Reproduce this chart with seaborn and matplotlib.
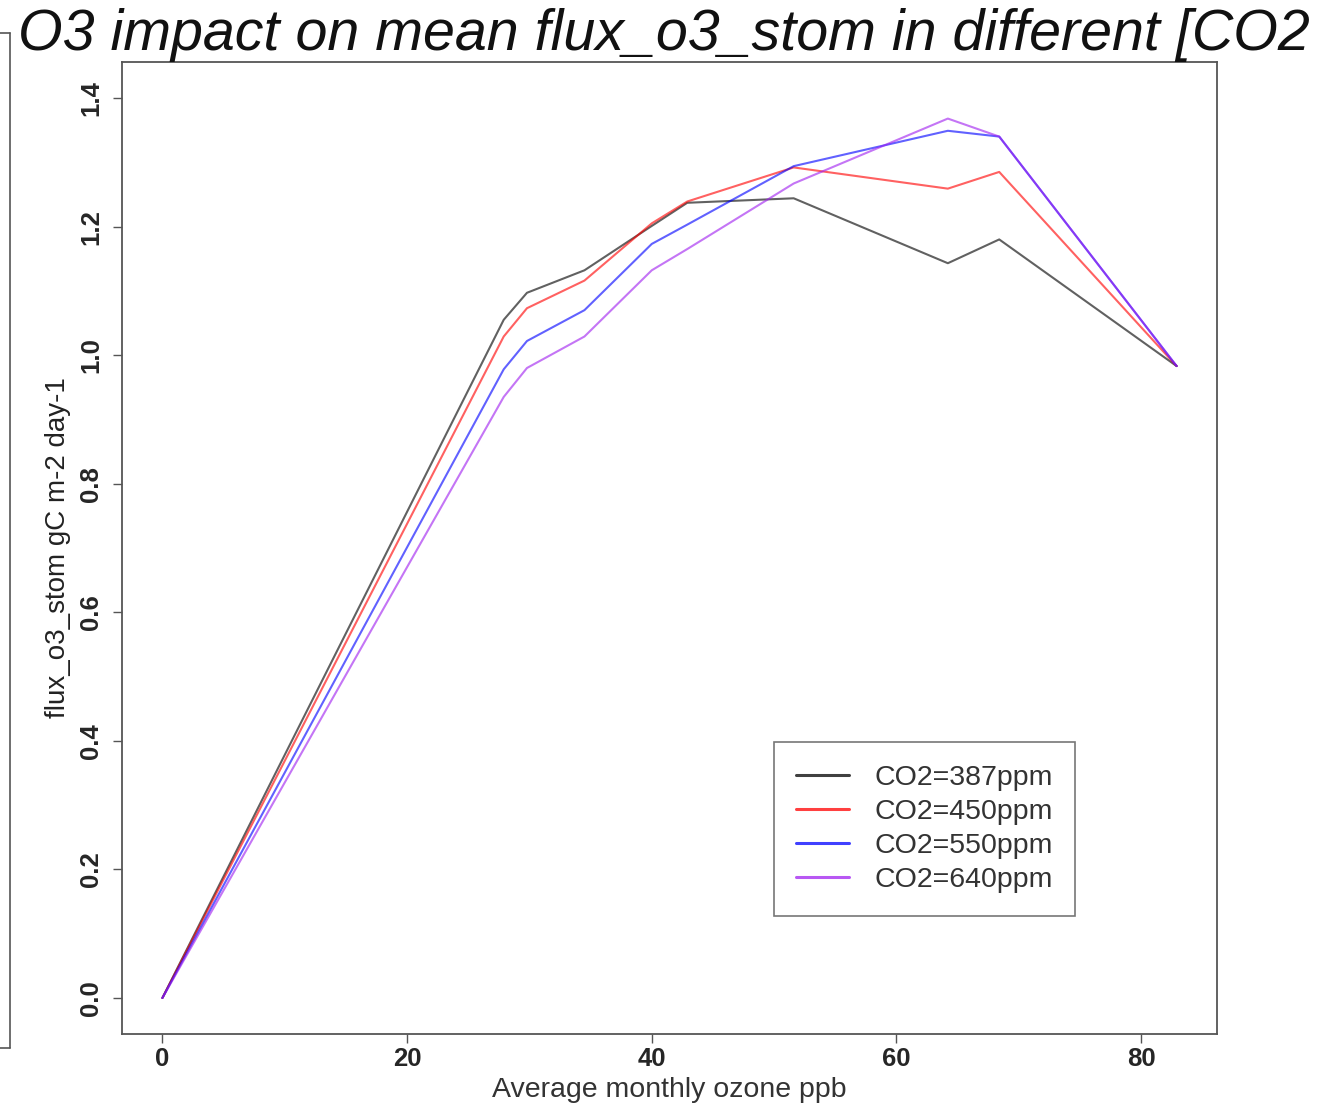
import pandas as pd
import matplotlib.pyplot as plt
from matplotlib.lines import Line2D
import seaborn as sns

# valori
ozone = [0, 27.9, 29.8, 34.5, 40.0, 42.9, 51.6, 64.2, 68.4, 82.9]
flux_387 = [0.0, 1.055, 1.097, 1.132, 1.201, 1.237, 1.244, 1.143, 1.180, 0.983]
flux_450 = [0.0, 1.029, 1.073, 1.116, 1.205, 1.239, 1.292, 1.259, 1.285, 0.983]
flux_550 = [0.0, 0.978, 1.022, 1.070, 1.173, 1.203, 1.294, 1.349, 1.340, 0.983]
flux_640 = [0.0, 0.935, 0.980, 1.029, 1.132, 1.165, 1.267, 1.368, 1.340, 0.983]
labels = ['CO2=387ppm', 'CO2=450ppm', 'CO2=550ppm', 'CO2=640ppm']
colori = ['#000000', '#ff0000', '#0000ff', '#a020f0']

serie = [flux_387, flux_450, flux_550, flux_640]
df = pd.concat([pd.DataFrame({'ozone': ozone, 'flux': s, 'co2': lab})
                for s, lab in zip(serie, labels)], ignore_index=True)

sns.set_theme(style="white")
plt.rcParams['font.family'] = ['Liberation Sans', 'DejaVu Sans']

W, H = 1324, 1106
fig = plt.figure(figsize=(W / 100, H / 100), dpi=100)
# assi: sinistra 122, destra 1217, alto 62, basso 1034 (pixel)
ax = fig.add_axes([122 / W, 1 - 1034 / H, (1217 - 122) / W, (1034 - 62) / H])

sns.lineplot(data=df, x='ozone', y='flux', hue='co2', palette=dict(zip(labels, colori)),
             ax=ax, linewidth=1.5, alpha=0.62, legend=False, sort=False)

ax.set_xlim(-3.3, 86.2)
ax.set_ylim(-0.056, 1.456)
ax.set_xticks([0, 20, 40, 60, 80])
ax.set_yticks([0.0, 0.2, 0.4, 0.6, 0.8, 1.0, 1.2, 1.4])
ax.set_yticklabels(['0.0', '0.2', '0.4', '0.6', '0.8', '1.0', '1.2', '1.4'],
                   rotation=90, va='center')
ax.tick_params(axis='both', which='major', direction='out', length=6.5, width=1,
               color='#555555', labelsize=18.5, bottom=True, left=True)
ax.tick_params(axis='y', pad=7)
ax.tick_params(axis='x', pad=3)
for lab in ax.get_xticklabels() + ax.get_yticklabels():
    lab.set_fontweight('bold')
for sp in ax.spines.values():
    sp.set_visible(True)
    sp.set_color('#555555')
    sp.set_linewidth(1.3)

ax.set_xlabel('Average monthly ozone ppb', fontsize=20.5, color='#333333', labelpad=4)
ax.set_ylabel('flux_o3_stom gC m-2 day-1', fontsize=20, color='#222222', labelpad=6)

handles = [Line2D([], [], color=c, linewidth=2.2, alpha=0.75) for c in colori]
leg = ax.legend(handles, labels, loc='upper left', bbox_to_anchor=(0.595, 0.300),
                borderaxespad=0, fontsize=20.5, frameon=True, fancybox=False,
                handlelength=1.86, handletextpad=0.88, borderpad=0.8, labelspacing=0.28)
leg.get_frame().set_edgecolor('#555555')
leg.get_frame().set_linewidth(1.2)
for t in leg.get_texts():
    t.set_color('#333333')

# il titolo nell'originale esce dal bordo destro dopo "[CO2"
fig.text(18 / W, 1 - 50 / H, 'O3 impact on mean flux_o3_stom in different [CO2',
         fontsize=41.3, style='italic', color='#111111', ha='left', va='baseline')

# bordo del pannello accanto (a sinistra)
fig.add_artist(Line2D([10 / W, 10 / W], [1 - 33 / H, 1 - 1048 / H], color='#555555', lw=1.2))
fig.add_artist(Line2D([0, 10 / W], [1 - 33 / H, 1 - 33 / H], color='#555555', lw=1.2))
fig.add_artist(Line2D([0, 10 / W], [1 - 1048 / H, 1 - 1048 / H], color='#555555', lw=1.2))

fig.savefig('out.png', dpi=100)
